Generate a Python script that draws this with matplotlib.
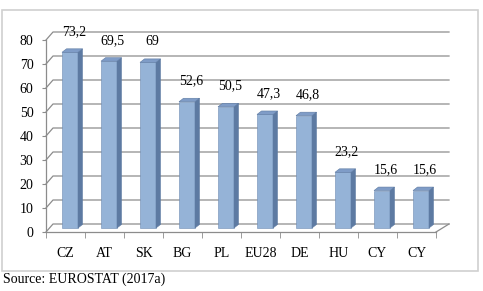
import numpy as np
import matplotlib.pyplot as plt
from matplotlib.patches import Polygon, Rectangle

plt.rcParams['font.family'] = ['Liberation Serif', 'DejaVu Serif']
plt.rcParams['font.size'] = 10

countries = ['CZ', 'AT', 'SK', 'BG', 'PL', 'EU28', 'DE', 'HU', 'CY', 'CY']
values = [73.2, 69.5, 69, 52.6, 50.5, 47.3, 46.8, 23.2, 15.6, 15.6]
labels = ['73,2', '69,5', '69', '52,6', '50,5', '47,3', '46,8', '23,2', '15,6', '15,6']
yticks = list(range(0, 90, 10))

W, H = 483, 291
fig = plt.figure(figsize=(W / 100, H / 100), dpi=100)
# front plane of the plot: x from 46 to 436 px, y 0..80 from 232 to 40 px
ax = fig.add_axes([46 / W, (H - 232) / H, 390 / W, 192 / H])
n = len(countries)
ax.set_xlim(-0.5, n - 0.5)
ax.set_ylim(0, 80)

px_x = 390 / n   # pixels per category
px_y = 192 / 80  # pixels per unit

grid_col = '#8c8c8c'
# depth offsets (front -> back), in data units
dxl, dxr, dy = 7 / px_x, 13 / px_x, 8 / px_y

# back wall gridlines + side wall diagonals
for v in yticks:
    ax.plot([-0.5, -0.5 + dxl, n - 0.5 + dxr], [v, v + dy, v + dy],
            color=grid_col, lw=0.9, clip_on=False, zorder=1)
# floor: right diagonal and front edge
ax.plot([n - 0.5, n - 0.5 + dxr], [0, dy], color=grid_col, lw=0.9, clip_on=False, zorder=1)
ax.plot([-0.5, n - 0.5], [0, 0], color=grid_col, lw=0.9, clip_on=False, zorder=1)

# bars at mid depth
x = np.arange(n)
bw = 16 / px_x
sx, sy = 4.5 / px_x, 4 / px_y          # shift to mid depth
ddx, ddy = 4.5 / px_x, 3.5 / px_y      # bar's own depth
front = '#95b3d7'
side = '#5d7aa2'
top = '#7f9cc7'
ax.bar(x + sx, values, width=bw, bottom=sy, color=front, edgecolor='#6f8bb3',
       lw=0.4, zorder=3, clip_on=False)
for xi, v in zip(x, values):
    x0, x1 = xi + sx - bw / 2, xi + sx + bw / 2
    yt = v + sy
    ax.add_patch(Polygon([[x1, sy], [x1 + ddx, sy + ddy], [x1 + ddx, yt + ddy], [x1, yt]],
                         closed=True, fc=side, ec=side, lw=0.4, zorder=3, clip_on=False))
    ax.add_patch(Polygon([[x0, yt], [x0 + ddx, yt + ddy], [x1 + ddx, yt + ddy], [x1, yt]],
                         closed=True, fc=top, ec=side, lw=0.4, zorder=3, clip_on=False))

# value labels
for xi, v, t in zip(x, values, labels):
    ax.text(xi + sx + 0.1, v + sy + 6, t, ha='center', va='bottom', fontsize=10, zorder=4)

# axes styling
for s in ['top', 'right', 'bottom']:
    ax.spines[s].set_visible(False)
ax.spines['left'].set_color(grid_col)
ax.spines['left'].set_linewidth(0.9)
ax.set_yticks(yticks)
ax.tick_params(axis='y', length=3, color=grid_col, pad=6, labelsize=10)
ax.set_xticks(x)
ax.set_xticklabels(countries)
ax.set_xticks(np.arange(n + 1) - 0.5, minor=True)
ax.tick_params(axis='x', which='major', length=0, pad=11, labelsize=10)
ax.tick_params(axis='x', which='minor', length=4, color=grid_col, direction='out')
ax.patch.set_visible(False)

# outer frame and source note
fig.add_artist(Rectangle((2 / W, (H - 271) / H), 476 / W, 261 / H, transform=fig.transFigure,
                         fill=False, ec='#d0d0d0', lw=1.2))
fig.text(3 / W, 1 - 279 / H, 'Source: EUROSTAT (2017a)', ha='left', va='center', fontsize=10)

fig.savefig('out.png', dpi=100)
